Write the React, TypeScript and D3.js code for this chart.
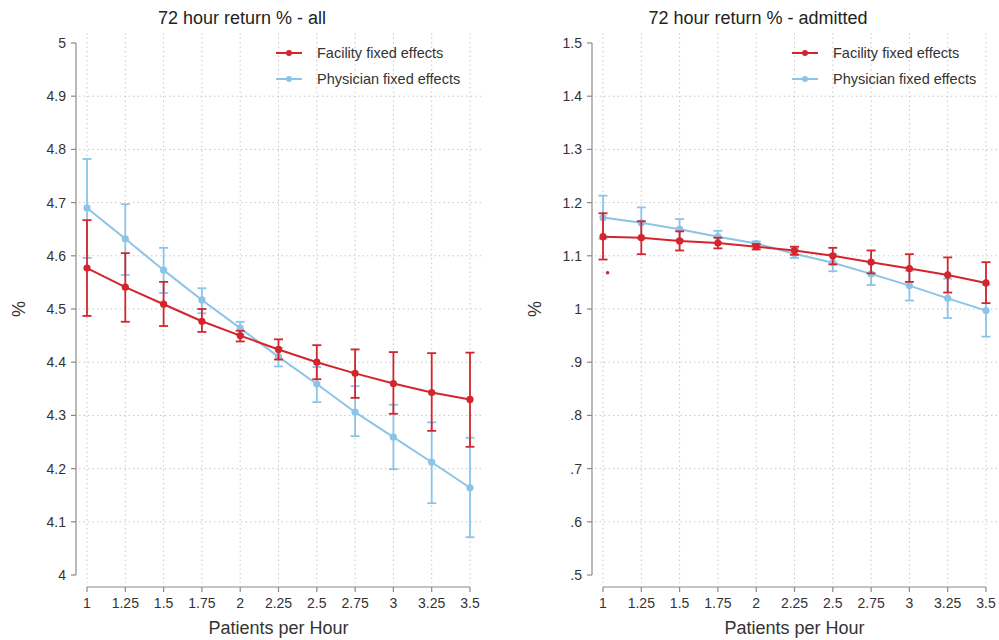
import React from 'react';
import * as d3 from 'd3';

const xValues = [1, 1.25, 1.5, 1.75, 2, 2.25, 2.5, 2.75, 3, 3.25, 3.5];

// 72 hour return % - all
const allFacility = [4.577, 4.541, 4.509, 4.477, 4.45, 4.424, 4.4, 4.379, 4.36, 4.343, 4.33];
const allFacilityLo = [4.487, 4.476, 4.468, 4.457, 4.439, 4.405, 4.368, 4.333, 4.303, 4.271, 4.241];
const allFacilityHi = [4.667, 4.605, 4.551, 4.5, 4.459, 4.443, 4.432, 4.424, 4.419, 4.417, 4.418];
const allPhysician = [4.69, 4.632, 4.573, 4.517, 4.464, 4.41, 4.359, 4.306, 4.259, 4.212, 4.164];
const allPhysicianLo = [4.596, 4.564, 4.53, 4.492, 4.452, 4.392, 4.325, 4.261, 4.199, 4.135, 4.071];
const allPhysicianHi = [4.782, 4.697, 4.615, 4.539, 4.476, 4.427, 4.391, 4.355, 4.32, 4.287, 4.258];

// 72 hour return % - admitted
const admFacility = [1.136, 1.134, 1.128, 1.124, 1.117, 1.11, 1.1, 1.088, 1.076, 1.064, 1.049];
const admFacilityLo = [1.093, 1.103, 1.11, 1.114, 1.112, 1.102, 1.084, 1.067, 1.051, 1.031, 1.011];
const admFacilityHi = [1.18, 1.165, 1.146, 1.134, 1.122, 1.117, 1.115, 1.11, 1.103, 1.097, 1.088];
const admPhysician = [1.172, 1.162, 1.15, 1.136, 1.123, 1.104, 1.087, 1.066, 1.044, 1.02, 0.997];
const admPhysicianLo = [1.132, 1.132, 1.13, 1.125, 1.119, 1.096, 1.071, 1.045, 1.016, 0.983, 0.948];
const admPhysicianHi = [1.213, 1.191, 1.169, 1.147, 1.127, 1.112, 1.103, 1.087, 1.072, 1.057, 1.046];
// stray marker visible in the admitted panel
const admStray = [{ x: 1.03, y: 1.068 }];

const yTicksAll = [4, 4.1, 4.2, 4.3, 4.4, 4.5, 4.6, 4.7, 4.8, 4.9, 5];
const yTicksAdm = [0.5, 0.6, 0.7, 0.8, 0.9, 1, 1.1, 1.2, 1.3, 1.4, 1.5];
const xTickLabels = ['1', '1.25', '1.5', '1.75', '2', '2.25', '2.5', '2.75', '3', '3.25', '3.5'];
const seriesNames = ['Facility fixed effects', 'Physician fixed effects'];

const RED = '#d3252b';
const BLUE = '#8cc4e8';
const FONT = '"Liberation Sans", Arial, Helvetica, sans-serif';

const fmtStata = (d: number) => String(+d.toFixed(2)).replace(/^0\./, '.');

type Series = { mid: number[]; lo: number[]; hi: number[]; color: string };

function Panel({ left, title, titleX, yTicks, series, stray }: any) {
  const x = d3.scaleLinear().domain([1, 3.5]).range([left + 11, left + 394]);
  const y = d3.scaleLinear().domain([yTicks[0], yTicks[yTicks.length - 1]]).range([575, 43]);
  const axisX = left;
  const axisY = 587;
  const gridRight = left + 406;
  const line = d3
    .line<number>()
    .x((_, i) => x(xValues[i]))
    .y((d) => y(d));

  const drawSeries = (s: Series, key: string) => (
    <g key={key}>
      {xValues.map((xv, i) => (
        <g key={i} stroke={s.color} strokeWidth={1.8}>
          <line x1={x(xv)} x2={x(xv)} y1={y(s.lo[i])} y2={y(s.hi[i])} />
          <line x1={x(xv) - 4.5} x2={x(xv) + 4.5} y1={y(s.lo[i])} y2={y(s.lo[i])} />
          <line x1={x(xv) - 4.5} x2={x(xv) + 4.5} y1={y(s.hi[i])} y2={y(s.hi[i])} />
        </g>
      ))}
      <path d={line(s.mid) || ''} fill="none" stroke={s.color} strokeWidth={2} />
      {xValues.map((xv, i) => (
        <circle key={'p' + i} cx={x(xv)} cy={y(s.mid[i])} r={3.6} fill={s.color} />
      ))}
    </g>
  );

  const legendX = x(1) + 189;
  return (
    <g fontFamily={FONT}>
      <text x={titleX} y={24} textAnchor="middle" fontSize={18} fill="#222">
        {title}
      </text>
      {/* grid */}
      {yTicks.slice(1, -1).map((t: number) => (
        <line key={'gy' + t} x1={axisX + 3} x2={gridRight} y1={y(t)} y2={y(t)} stroke="#c8c8c8" strokeWidth={1} strokeDasharray="1.5,3" />
      ))}
      {xValues.map((t) => (
        <line key={'gx' + t} x1={x(t)} x2={x(t)} y1={33} y2={583} stroke="#c8c8c8" strokeWidth={1} strokeDasharray="1.5,3" />
      ))}
      {/* y axis */}
      <line x1={axisX} x2={axisX} y1={y.range()[1]} y2={y.range()[0]} stroke="#8a8a8a" strokeWidth={1.2} />
      {yTicks.map((t: number) => (
        <g key={'ty' + t}>
          <line x1={axisX - 5} x2={axisX} y1={y(t)} y2={y(t)} stroke="#8a8a8a" strokeWidth={1.2} />
          <text x={axisX - 10} y={y(t)} dy="0.35em" textAnchor="end" fontSize={14} fill="#333">
            {fmtStata(t)}
          </text>
        </g>
      ))}
      <text
        transform={`translate(${axisX - 57},${(y.range()[0] + y.range()[1]) / 2}) rotate(-90)`}
        textAnchor="middle"
        dy="0.35em"
        fontSize={18}
        fill="#333"
      >
        %
      </text>
      {/* x axis */}
      <line x1={x(1)} x2={x(3.5)} y1={axisY} y2={axisY} stroke="#8a8a8a" strokeWidth={1.2} />
      {xValues.map((t, i) => (
        <g key={'tx' + t}>
          <line x1={x(t)} x2={x(t)} y1={axisY} y2={axisY + 5} stroke="#8a8a8a" strokeWidth={1.2} />
          <text x={x(t)} y={axisY + 21} textAnchor="middle" fontSize={14} fill="#333">
            {xTickLabels[i]}
          </text>
        </g>
      ))}
      <text x={(x(1) + x(3.5)) / 2} y={634} textAnchor="middle" fontSize={18} fill="#333">
        Patients per Hour
      </text>
      {/* data */}
      {drawSeries(series[1], 'phys')}
      {drawSeries(series[0], 'fac')}
      {stray.map((p: any, i: number) => (
        <circle key={'s' + i} cx={x(p.x)} cy={y(p.y)} r={1.8} fill={RED} />
      ))}
      {/* legend */}
      {seriesNames.map((name, i) => (
        <g key={name}>
          <line x1={legendX} x2={legendX + 26} y1={53 + i * 26} y2={53 + i * 26} stroke={series[i].color} strokeWidth={2} />
          <circle cx={legendX + 13} cy={53 + i * 26} r={3} fill={series[i].color} />
          <text x={legendX + 41} y={53 + i * 26} dy="0.35em" fontSize={14.5} fill="#333">
            {name}
          </text>
        </g>
      ))}
    </g>
  );
}

export default function App() {
  const allSeries: Series[] = [
    { mid: allFacility, lo: allFacilityLo, hi: allFacilityHi, color: RED },
    { mid: allPhysician, lo: allPhysicianLo, hi: allPhysicianHi, color: BLUE },
  ];
  const admSeries: Series[] = [
    { mid: admFacility, lo: admFacilityLo, hi: admFacilityHi, color: RED },
    { mid: admPhysician, lo: admPhysicianLo, hi: admPhysicianHi, color: BLUE },
  ];
  return (
    <svg width={999} height={640} style={{ position: 'absolute', left: 0, top: 0, background: '#fff' }}>
      <rect width={999} height={640} fill="#fff" />
      <Panel left={76} title="72 hour return % - all" titleX={242} yTicks={yTicksAll} series={allSeries} stray={[]} />
      <Panel left={592} title="72 hour return % - admitted" titleX={758} yTicks={yTicksAdm} series={admSeries} stray={admStray} />
    </svg>
  );
}
